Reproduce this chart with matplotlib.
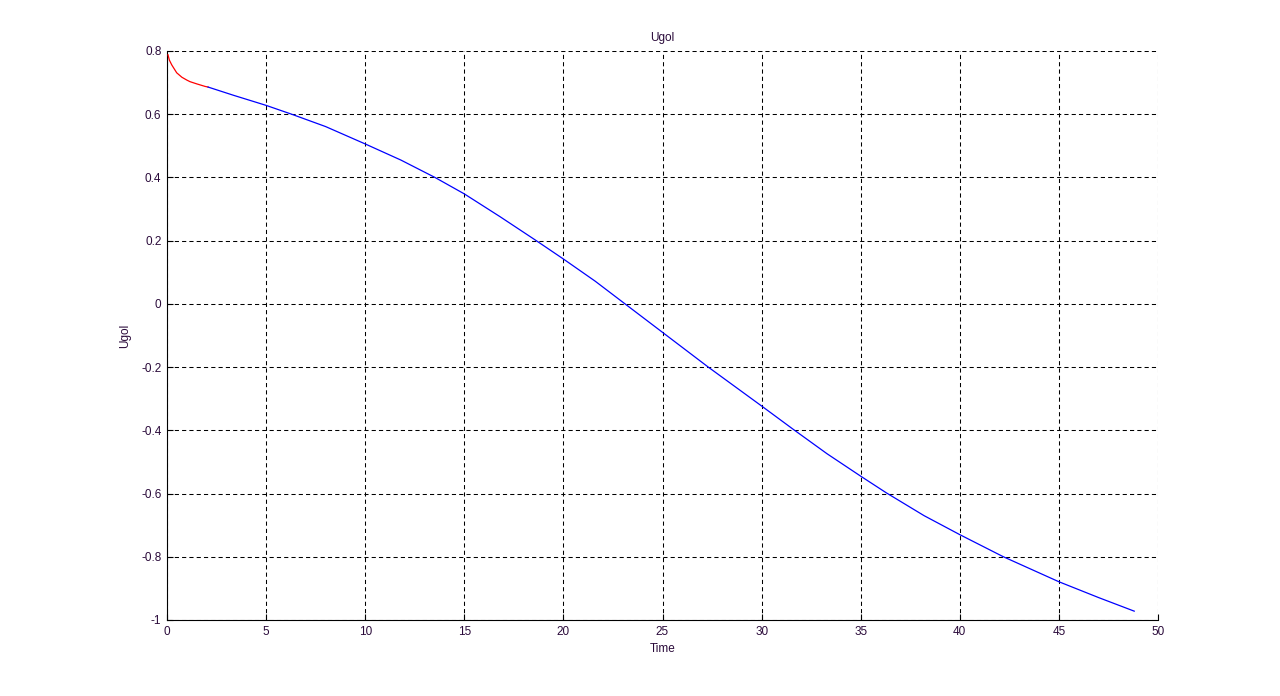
import matplotlib
matplotlib.use("Agg")
import matplotlib.pyplot as plt

# Red initial segment
t_red = [0.05, 0.12, 0.24, 0.35, 0.49, 0.75, 1.0, 1.16, 1.5, 1.92, 2.07]
y_red = [0.788, 0.771, 0.756, 0.745, 0.731, 0.717, 0.708, 0.703, 0.696, 0.688, 0.686]

# Blue main segment
t_blue = [2.07, 3.35, 5.0, 6.29, 8.0, 10.0, 11.8, 13.52, 15.0, 16.8, 18.56, 20.0,
          21.6, 23.11, 25.0, 27.31, 30.0, 31.6, 33.3, 35.0, 36.3, 38.2, 40.0,
          42.2, 45.0, 47.0, 48.8]
y_blue = [0.686, 0.660, 0.628, 0.600, 0.561, 0.506, 0.455, 0.400, 0.348, 0.276, 0.203, 0.142,
          0.072, 0.000, -0.090, -0.200, -0.323, -0.397, -0.474, -0.545, -0.598, -0.670, -0.730,
          -0.800, -0.879, -0.929, -0.972]

xticks = [0, 5, 10, 15, 20, 25, 30, 35, 40, 45, 50]
yticks = [-1, -0.8, -0.6, -0.4, -0.2, 0, 0.2, 0.4, 0.6, 0.8]
ytick_labels = ["-1", "-0.8", "-0.6", "-0.4", "-0.2", "0", "0.2", "0.4", "0.6", "0.8"]

txt = "#2a0a3a"
plt.rcParams['font.family'] = ['Liberation Sans', 'DejaVu Sans']

fig = plt.figure(figsize=(12.8, 6.96), dpi=100)
ax = fig.add_axes([167/1280, 1 - 620/696, (1158-167)/1280, (620-51)/696])

ax.plot(t_red, y_red, color="#ff0000", lw=0.9, zorder=3)
ax.plot(t_blue, y_blue, color="#0000ff", lw=0.9, zorder=3)

ax.set_xlim(0, 50)
ax.set_ylim(-1, 0.8)
ax.set_xticks(xticks)
ax.set_xticklabels([str(v) for v in xticks])
ax.set_yticks(yticks)
ax.set_yticklabels(ytick_labels)

ax.grid(True, color="black", linestyle=(0, (4, 3)), linewidth=0.75)
ax.set_axisbelow(True)
for s in ["top", "right"]:
    ax.spines[s].set_visible(False)
for s in ["left", "bottom"]:
    ax.spines[s].set_linewidth(0.8)
    ax.spines[s].set_color("black")

ax.tick_params(direction="in", length=4, width=0.8, labelsize=8.5, labelcolor=txt,
               pad=4, top=False, right=False)

ax.set_title("Ugol", fontsize=8.5, color=txt, pad=7)
ax.set_xlabel("Time", fontsize=8.5, color=txt, labelpad=4)
ax.set_ylabel("Ugol", fontsize=8.5, color=txt, labelpad=7.5)

fig.savefig("out.png", dpi=100)
